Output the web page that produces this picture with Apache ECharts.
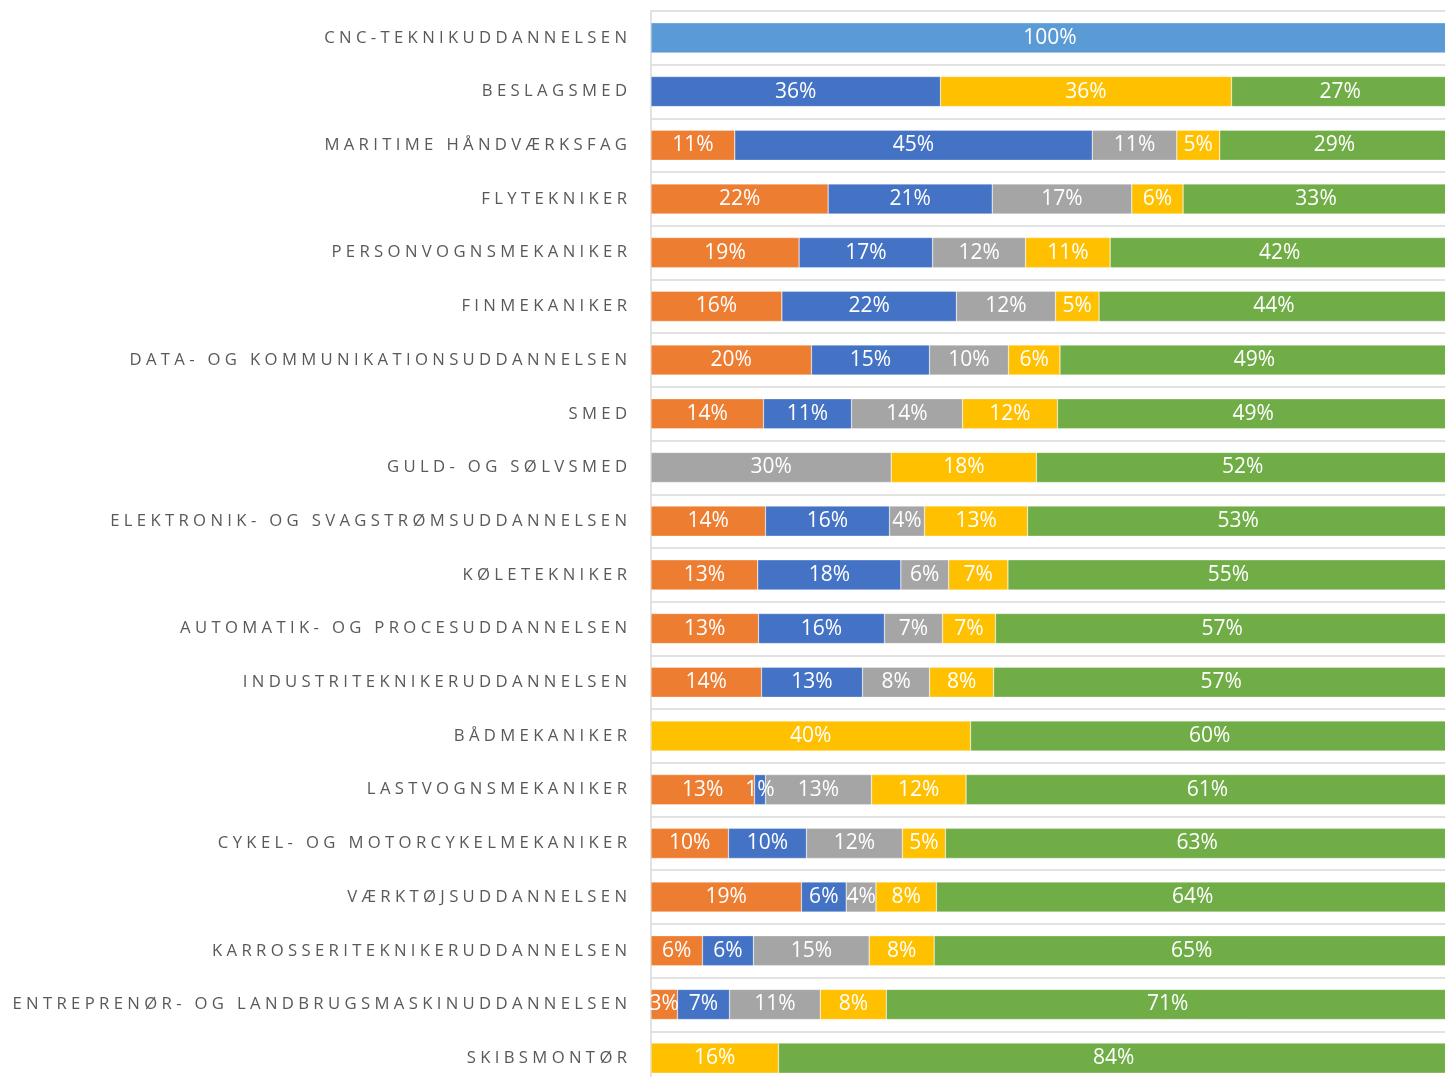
<!DOCTYPE html>
<html>
<head>
<meta charset="utf-8">
<script src="https://cdn.jsdelivr.net/npm/echarts@6/dist/echarts.min.js"></script>
<style>html,body{margin:0;padding:0;background:#fff;overflow:hidden}#c{width:1449px;height:1085px}</style>
</head>
<body>
<div id="c"></div>
<script>
const categories = [
  "CNC-TEKNIKUDDANNELSEN",
  "BESLAGSMED",
  "MARITIME HÅNDVÆRKSFAG",
  "FLYTEKNIKER",
  "PERSONVOGNSMEKANIKER",
  "FINMEKANIKER",
  "DATA- OG KOMMUNIKATIONSUDDANNELSEN",
  "SMED",
  "GULD- OG SØLVSMED",
  "ELEKTRONIK- OG SVAGSTRØMSUDDANNELSEN",
  "KØLETEKNIKER",
  "AUTOMATIK- OG PROCESUDDANNELSEN",
  "INDUSTRITEKNIKERUDDANNELSEN",
  "BÅDMEKANIKER",
  "LASTVOGNSMEKANIKER",
  "CYKEL- OG MOTORCYKELMEKANIKER",
  "VÆRKTØJSUDDANNELSEN",
  "KARROSSERITEKNIKERUDDANNELSEN",
  "ENTREPRENØR- OG LANDBRUGSMASKINUDDANNELSEN",
  "SKIBSMONTØR"
];
// shares in percent (labels show rounded values)
const lightBlueValues = [100, null, null, null, null, null, null, null, null, null, null, null, null, null, null, null, null, null, null, null];
const orangeValues = [null, null, 10.5, 22.2, 18.56, 16.4, 20.11, 14.1, null, 14.35, 13.38, 13.47, 13.85, null, 12.97, 9.71, 18.85, 6.45, 3.32, null];
const blueValues   = [null, 36.28, 44.8, 20.56, 16.73, 21.87, 14.79, 11.03, null, 15.54, 17.93, 15.79, 12.66, null, 1.38, 9.77, 5.61, 6.39, 6.52, null];
const grayValues   = [null, null, 10.59, 17.49, 11.65, 12.42, 9.9, 13.91, 30.1, 4.39, 5.99, 7.27, 8.4, null, 13.28, 12.03, 3.73, 14.5, 11.38, null];
const yellowValues = [null, 36.47, 5.38, 6.43, 10.6, 5.46, 6.45, 11.9, 18.2, 12.91, 7.43, 6.64, 8.02, 40.04, 11.85, 5.39, 7.58, 8.15, 8.27, 15.98];
const greenValues  = [null, 27.25, 28.73, 33.32, 42.46, 43.85, 48.75, 49.06, 51.7, 52.81, 55.27, 56.83, 57.07, 59.96, 60.52, 63.1, 64.23, 64.51, 70.51, 84.02];

const seriesDefs = [
  {name: "a", data: lightBlueValues, color: "#5B9BD5"},
  {name: "b", data: orangeValues, color: "#ED7D31"},
  {name: "c", data: blueValues, color: "#4472C4"},
  {name: "d", data: grayValues, color: "#A5A5A5"},
  {name: "e", data: yellowValues, color: "#FFC000"},
  {name: "f", data: greenValues, color: "#70AD47"}
];

function spaced(s) {
  return s.split(' ').map(w => w.split('').join(' ')).join('   ');
}

const chart = echarts.init(document.getElementById('c'));
chart.setOption({
  animation: false,
  grid: {left: 651, right: 0, top: 11, bottom: 0, containLabel: false},
  xAxis: {type: 'value', min: 0, max: 100, show: false},
  yAxis: {
    type: 'category', inverse: true, data: categories,
    axisLine: {show: true, lineStyle: {color: '#d9d9d9', width: 1.5}},
    axisTick: {show: false},
    splitLine: {show: true, lineStyle: {color: '#d9d9d9', width: 1.5}},
    axisLabel: {
      margin: 24, color: '#595959', fontFamily: 'Open Sans', fontSize: 16.7,
      formatter: v => spaced(v)
    }
  },
  series: seriesDefs.map(s => ({
    name: s.name, type: 'bar', stack: 'total', data: s.data,
    barCategoryGap: '44%',
    itemStyle: {color: s.color, borderColor: 'rgba(255,255,255,0.6)', borderWidth: 0.5},
    label: {
      show: true, position: 'inside', color: '#fff', fontFamily: 'Open Sans', fontSize: 21,
      formatter: p => (p.value == null ? '' : Math.round(p.value) + '%')
    }
  }))
});
</script>
</body>
</html>
